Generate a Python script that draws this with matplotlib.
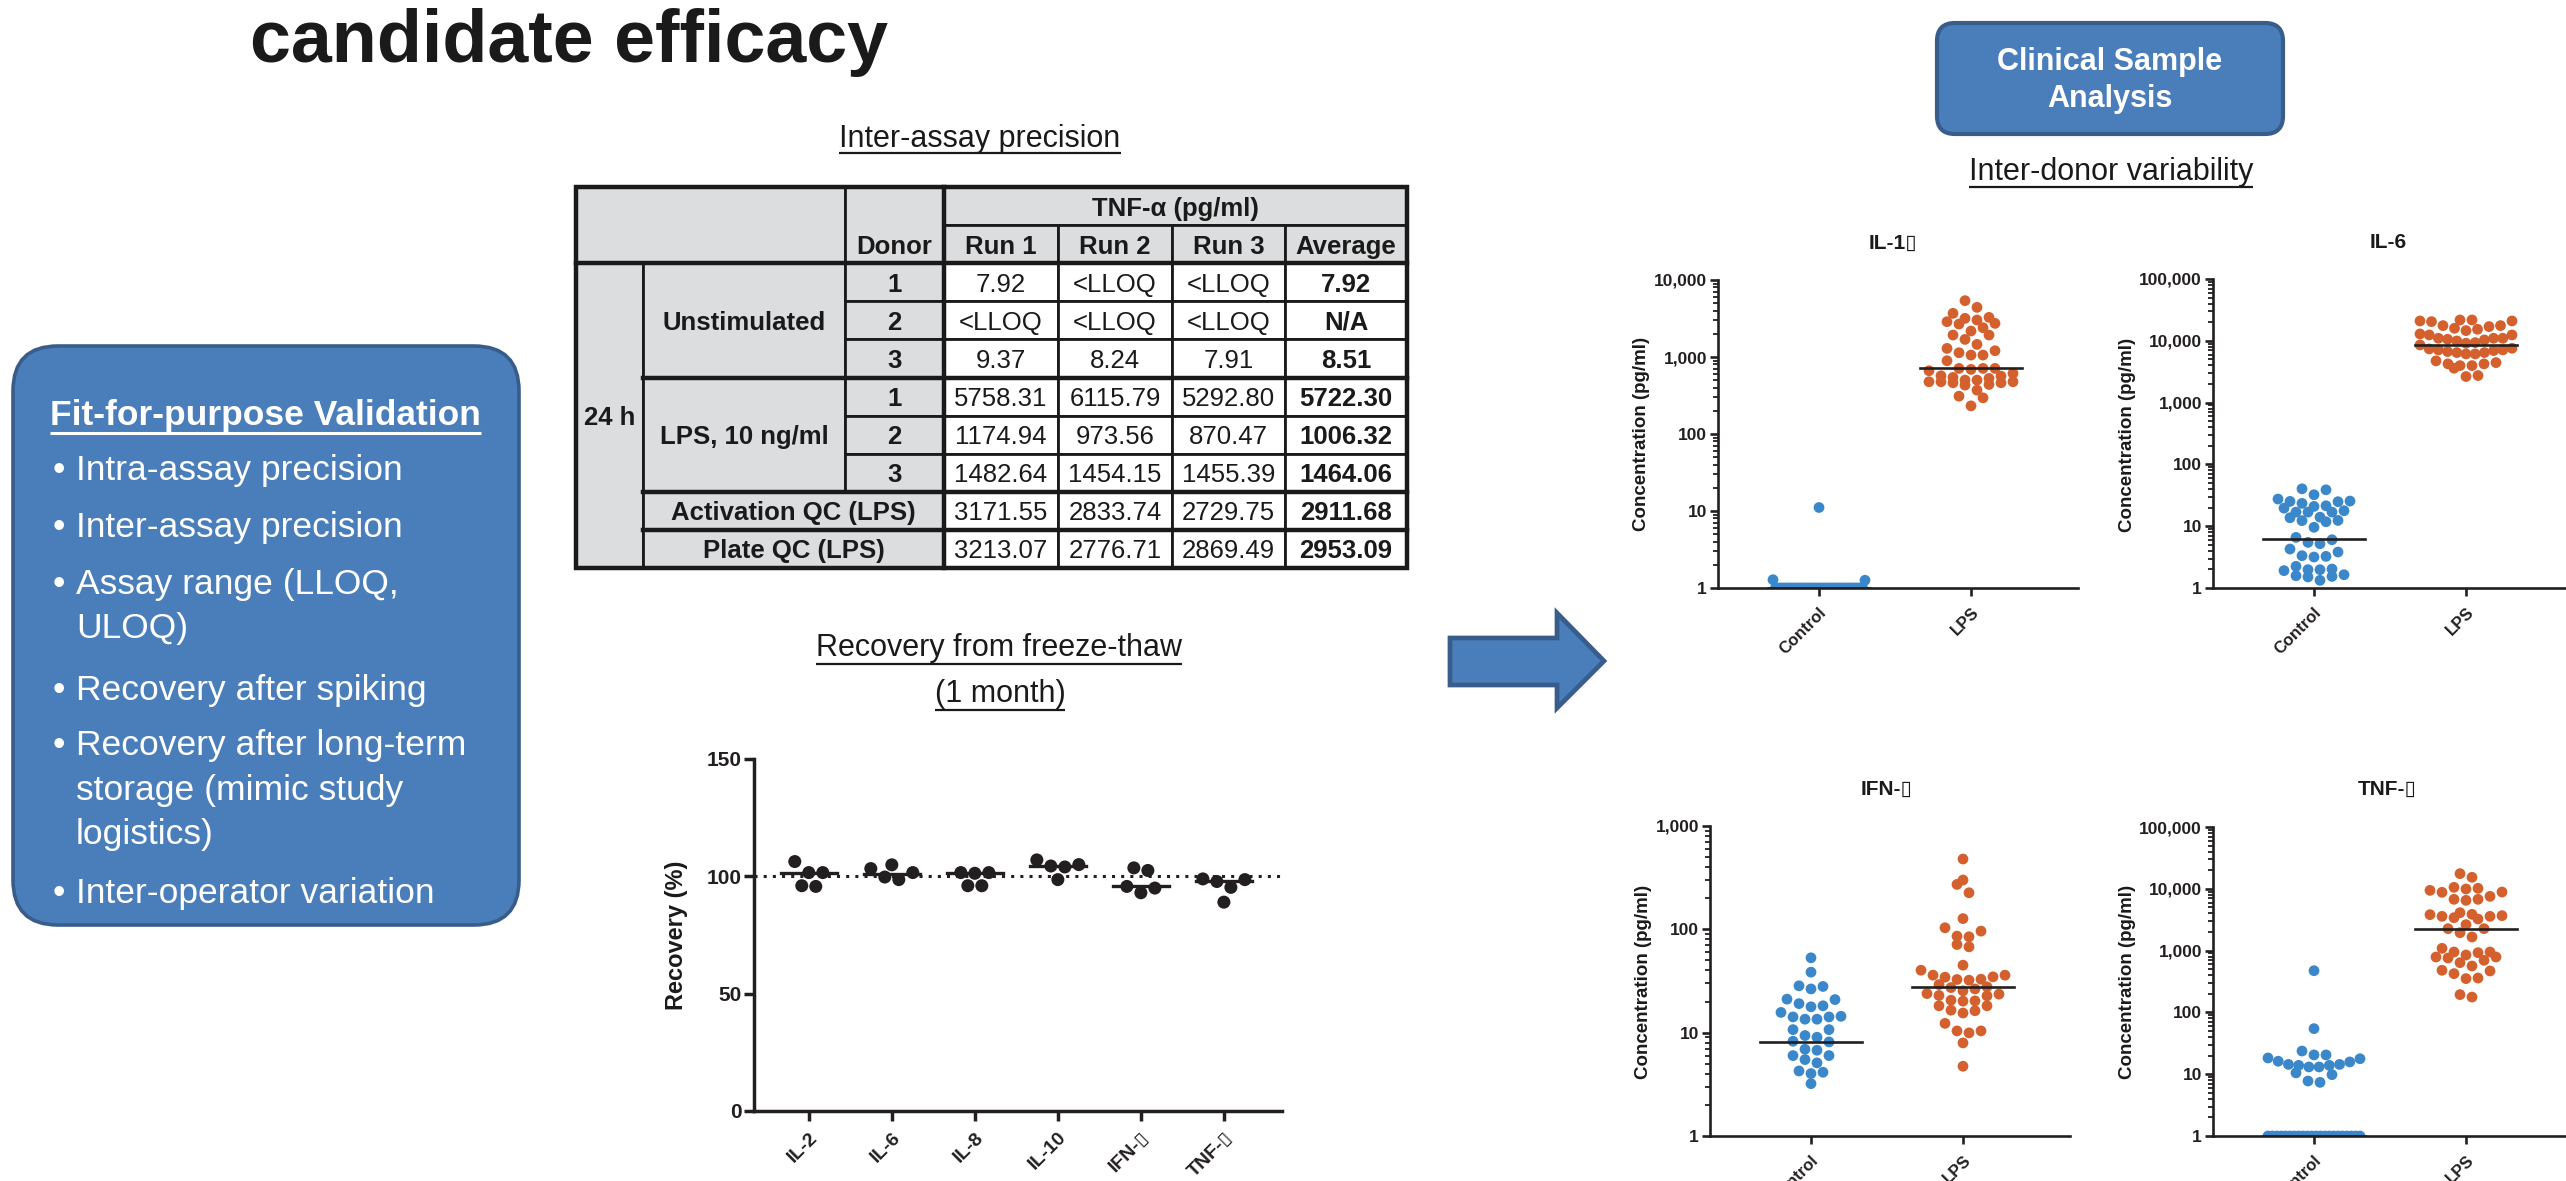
import matplotlib
matplotlib.use('Agg')
import matplotlib.pyplot as plt
import numpy as np
from matplotlib.patches import FancyBboxPatch, Rectangle, Polygon

plt.rcParams['font.family'] = ['Liberation Sans', 'DejaVu Sans']

W, H = 2566, 1181
DPI = 100

# ---------------- data ----------------
title_text = 'candidate efficacy'
validation_title = 'Fit-for-purpose Validation'
validation_items = [['Intra-assay precision'], ['Inter-assay precision'],
                    ['Assay range (LLOQ,', 'ULOQ)'], ['Recovery after spiking'],
                    ['Recovery after long-term', 'storage (mimic study', 'logistics)'],
                    ['Inter-operator variation']]

table_title = 'Inter-assay precision'
table_header = 'TNF-α (pg/ml)'
run_labels = ['Run 1', 'Run 2', 'Run 3', 'Average']
donor_ids = ['1', '2', '3']
group_labels = ['Unstimulated', 'LPS, 10 ng/ml']
qc_labels = ['Activation QC (LPS)', 'Plate QC (LPS)']
time_label = '24 h'
unstim_rows = [['7.92', '<LLOQ', '<LLOQ', '7.92'],
               ['<LLOQ', '<LLOQ', '<LLOQ', 'N/A'],
               ['9.37', '8.24', '7.91', '8.51']]
lps_rows = [['5758.31', '6115.79', '5292.80', '5722.30'],
            ['1174.94', '973.56', '870.47', '1006.32'],
            ['1482.64', '1454.15', '1455.39', '1464.06']]
qc_rows = [['3171.55', '2833.74', '2729.75', '2911.68'],
           ['3213.07', '2776.71', '2869.49', '2953.09']]

recovery_title = ['Recovery from freeze-thaw', '(1 month)']
recovery_categories = ['IL-2', 'IL-6', 'IL-8', 'IL-10', 'IFN-▯', 'TNF-▯']
recovery_il2 = [106.3, 101.6, 101.6, 95.7, 96.0]
recovery_il6 = [104.9, 101.6, 98.6, 99.7, 103.3]
recovery_il8 = [101.6, 101.3, 96.0, 96.0, 101.6]
recovery_il10 = [107.0, 104.4, 98.6, 104.0, 105.0]
recovery_ifng = [95.7, 103.6, 93.0, 102.5, 95.0]
recovery_tnfa = [97.8, 98.9, 89.0, 98.6, 95.3]
recovery_medians = [101.6, 101.0, 101.3, 104.4, 95.7, 97.8]

clinical_box = ['Clinical Sample', 'Analysis']
clinical_title = 'Inter-donor variability'
groups = ['Control', 'LPS']
panel_titles = ['IL-1▯', 'IL-6', 'IFN-▯', 'TNF-▯']

il1b_control = [11.1, 1.28, 1.26, 1.0, 1.0, 1.0, 1.0, 1.0, 1.0, 1.0, 1.0, 1.0, 1.0,
                1.0, 1.0, 1.0, 1.0, 1.0, 1.0, 1.0, 1.0, 1.0, 1.0, 1.0, 1.0, 1.0, 1.0,
                1.0, 1.0, 1.0, 1.0, 1.0, 1.0, 1.0, 1.0, 1.0, 1.0, 1.0, 1.0, 1.0]
il1b_lps = [5390, 4413, 3690, 3270, 3175, 3020, 2873, 2733, 2679, 2401, 2173, 1928,
            1928, 1693, 1458, 1293, 1206, 1136, 1059, 1059, 894, 711, 711, 711, 690,
            663, 612, 570, 565, 543, 527, 501, 501, 477, 477, 477, 463, 463, 440, 431,
            371, 310, 295, 232]
il1b_medians = [1.0, 711]

il6_control = [40.3, 38.8, 32.3, 27.5, 25.5, 25.2, 24.9, 23.4, 21.4, 20.9, 19.6, 17.8,
               16.9, 16.9, 16.9, 14.0, 13.7, 12.4, 12.3, 11.8, 9.6, 6.59, 6.04, 5.47,
               5.21, 4.27, 3.82, 3.33, 3.25, 3.17, 2.24, 2.03, 1.98, 1.98, 1.91, 1.64,
               1.58, 1.54, 1.51, 1.33]
il6_lps = [21740, 20950, 17620, 16980, 15360, 14620, 15950, 17620, 20420, 20950, 21740,
           12440, 10990, 10990, 10330, 9350, 8570, 9120, 9950, 10590, 10990, 12440,
           12910, 7390, 7120, 6950, 6450, 6140, 4730, 6140, 6450, 6690, 7120, 7570,
           4230, 3970, 3600, 2640, 2740, 3970, 4230, 4440]
il6_medians = [6.3, 8690]

ifng_control = [53.0, 38.5, 28.0, 28.4, 26.5, 21.1, 20.9, 19.1, 18.2, 17.8, 15.7, 14.2,
                13.5, 13.5, 14.2, 14.4, 10.7, 10.7, 9.03, 9.38, 8.14, 8.26, 6.91, 6.76,
                6.00, 6.00, 5.49, 5.10, 4.14, 4.02, 4.26, 3.21]
ifng_lps = [479, 300, 272, 226, 127, 103.5, 96.1, 84.7, 85.9, 71.3, 67.7, 45.0, 40.2,
            34.4, 36.0, 34.7, 36.0, 32.2, 32.9, 32.7, 29.2, 27.8, 27.3, 26.5, 25.4, 23.6,
            22.7, 22.9, 23.9, 20.3, 20.6, 20.2, 18.2, 18.2, 16.3, 16.5, 15.5, 12.3, 10.4,
            9.95, 10.4, 7.96, 4.73]
ifng_medians = [8.2, 27.8]

tnfa_control = [473, 54.6, 23.7, 20.5, 20.5, 17.8, 18.3, 15.8, 16.2, 14.4, 14.4, 13.9,
                13.9, 13.1, 13.1, 10.5, 9.83, 7.76, 7.38, 1.0, 1.0, 1.0, 1.0, 1.0, 1.0,
                1.0, 1.0, 1.0, 1.0, 1.0, 1.0, 1.0, 1.0, 1.0, 1.0, 1.0, 1.0, 1.0, 1.0,
                1.0, 1.0]
tnfa_lps = [17580, 15340, 9440, 8770, 10180, 10560, 9930, 8870, 6760, 6510, 6760, 7550,
            3675, 3245, 3583, 3862, 3412, 4110, 3583, 3815, 2264, 2264, 2630, 1950, 1660,
            1088, 949, 926, 788, 759, 638, 696, 788, 849, 949, 564, 468, 424, 480, 360,
            352, 177, 194]
tnfa_medians = [1.0, 2264]

# ---------------- styling ----------------
BLUE_FILL = '#4A7EBB'
BLUE_EDGE = '#385D8A'
TXT = '#1A1A1A'
AX = '#231F20'
C_CTRL = '#3A87C9'
C_LPS = '#D4602E'
GRAY = '#DCDDDE'

fig = plt.figure(figsize=(W / DPI, H / DPI), dpi=DPI)
ov = fig.add_axes([0, 0, 1, 1])
ov.set_xlim(0, W)
ov.set_ylim(H, 0)
ov.axis('off')
ov.set_autoscale_on(False)


def T(x, y, s, size, bold=False, color=TXT, ha='left', va='baseline', **kw):
    return ov.text(x, y, s, fontsize=size, fontweight='bold' if bold else 'normal',
                   color=color, ha=ha, va=va, **kw)


def underline(t, y, lw=1.6, color=TXT):
    r = fig.canvas.get_renderer()
    bb = t.get_window_extent(renderer=r)
    ov.plot([bb.x0, bb.x1], [y, y], color=color, lw=lw, solid_capstyle='butt')


def px_axes(left, top, right, bottom):
    return fig.add_axes([left / W, 1 - bottom / H, (right - left) / W, (bottom - top) / H])


def swarm_x(ax, center, values, row_px, step_px, half_px):
    vals = np.asarray(values, float)
    pts = ax.transData.transform(np.column_stack([np.full(len(vals), center), vals]))
    ypx = pts[:, 1]
    x0px = pts[0, 0]
    order = np.argsort(ypx, kind='stable')
    rows, cur, start = [], [order[0]], ypx[order[0]]
    for i in order[1:]:
        if ypx[i] - start < row_px:
            cur.append(i)
        else:
            rows.append(cur)
            cur, start = [i], ypx[i]
    rows.append(cur)
    off = np.zeros(len(vals))
    for row in rows:
        n = len(row)
        if n == 1:
            continue
        s = min(step_px, 2 * half_px / (n - 1))
        slots = []
        if n % 2:
            slots.append(0.0)
            k = 1
            while len(slots) < n:
                slots += [k * s, -k * s]
                k += 1
        else:
            k = 0.5
            while len(slots) < n:
                slots += [k * s, -k * s]
                k += 1
        for j, idx in enumerate(row):
            off[idx] = slots[j]
    inv = ax.transData.inverted()
    return inv.transform(np.column_stack([x0px + off, ypx]))[:, 0]


# ---------------- title ----------------
T(250, 62, title_text, 53, bold=True, color=TXT)

# ---------------- left validation box ----------------
ov.add_patch(FancyBboxPatch((13, 346), 506, 579, boxstyle='round,pad=0,rounding_size=45',
                            facecolor=BLUE_FILL, edgecolor=BLUE_EDGE, lw=2.6))
t = T(50, 425, validation_title, 25.5, bold=True, color='white')
underline(t, 433, lw=2.2, color='white')
baselines = [[480], [537], [594, 638], [700], [755, 800, 844], [903]]
for item, bls in zip(validation_items, baselines):
    T(53, bls[0], '•', 25.5, color='white')
    for line, bl in zip(item, bls):
        T(76, bl, line, 25.5, color='white')

# ---------------- table ----------------
t = T(980, 147, table_title, 22, ha='center')
underline(t, 153, lw=1.6)
cx = [576, 643, 845, 944, 1058, 1172, 1285, 1407]
top, bot = 187, 568
rh = (bot - top) / 10
ry = [top + rh * i for i in range(11)]
FS = 18.5


def cell(c0, c1, r0, r1, text, bold, fill, trow=None):
    x0, x1, y0, y1 = cx[c0], cx[c1 + 1], ry[r0], ry[r1 + 1]
    ov.add_patch(Rectangle((x0, y0), x1 - x0, y1 - y0, facecolor=fill, edgecolor=TXT, lw=2.0))
    if text:
        ty = (ry[trow] + ry[trow + 1]) / 2 if trow is not None else (y0 + y1) / 2
        T((x0 + x1) / 2, ty, text, FS, bold=bold, ha='center', va='center_baseline')


cell(0, 1, 0, 1, '', False, GRAY)
cell(2, 2, 0, 1, 'Donor', True, GRAY, trow=1)
cell(3, 6, 0, 0, table_header, True, GRAY)
for j, lab in enumerate(run_labels):
    cell(3 + j, 3 + j, 1, 1, lab, True, GRAY)
cell(0, 0, 2, 9, time_label, True, GRAY)
cell(1, 1, 2, 4, group_labels[0], True, GRAY)
cell(1, 1, 5, 7, group_labels[1], True, GRAY)
for g in range(2):
    for d, lab in enumerate(donor_ids):
        cell(2, 2, 2 + 3 * g + d, 2 + 3 * g + d, lab, True, GRAY)
for q, lab in enumerate(qc_labels):
    cell(1, 2, 8 + q, 8 + q, lab, True, GRAY)
for r, row in enumerate(unstim_rows + lps_rows + qc_rows):
    for j, v in enumerate(row):
        cell(3 + j, 3 + j, 2 + r, 2 + r, v, j == 3, 'white')
ov.plot([cx[0], cx[-1]], [ry[2], ry[2]], color=TXT, lw=3.2)
ov.plot([cx[3], cx[3]], [ry[0], ry[10]], color=TXT, lw=3.2)
for rr in (5, 8, 9):
    ov.plot([cx[1], cx[-1]], [ry[rr], ry[rr]], color=TXT, lw=3.2)
ov.add_patch(Rectangle((cx[0], ry[0]), cx[-1] - cx[0], ry[10] - ry[0], facecolor='none',
                       edgecolor=TXT, lw=3.2))

# ---------------- recovery chart ----------------
t = T(999, 656, recovery_title[0], 22, ha='center')
underline(t, 664, lw=1.6)
t = T(1000, 702, recovery_title[1], 22, ha='center')
underline(t, 710, lw=1.6)

ax_r = px_axes(754, 759, 1282, 1111)
ax_r.set_xlim(-0.66, 5.70)
ax_r.set_ylim(0, 150)
rec_sets = [recovery_il2, recovery_il6, recovery_il8, recovery_il10, recovery_ifng, recovery_tnfa]
ax_r.axhline(100, color=AX, lw=2.2, linestyle=(0, (1, 2)), zorder=1)
for i, vals in enumerate(rec_sets):
    xs = swarm_x(ax_r, i, vals, row_px=12, step_px=14, half_px=30)
    ax_r.scatter(xs, vals, s=88, c=AX, edgecolors='none', zorder=3, clip_on=False)
    ax_r.plot([i - 0.34, i + 0.34], [recovery_medians[i]] * 2, color=AX, lw=2.4, zorder=4)
for sp in ('top', 'right'):
    ax_r.spines[sp].set_visible(False)
for sp in ('left', 'bottom'):
    ax_r.spines[sp].set_linewidth(2.5)
    ax_r.spines[sp].set_color(AX)
ax_r.set_yticks([0, 50, 100, 150], labels=['0', '50', '100', '150'], fontsize=15,
               fontweight='bold', color=AX)
ax_r.set_xticks(range(len(recovery_categories)), labels=recovery_categories, rotation=45,
               ha='right', va='top', rotation_mode='anchor', fontsize=14, fontweight='bold',
               color=AX)
ax_r.tick_params(axis='both', direction='out', length=7, width=2.5, color=AX)
ax_r.tick_params(axis='y', pad=2)
ax_r.tick_params(axis='x', pad=6)
ax_r.set_facecolor('none')
T(676, 935, 'Recovery (%)', 17, bold=True, ha='center', va='center', rotation=90)

# ---------------- arrow ----------------
ov.add_patch(Polygon([(1450, 638), (1557, 638), (1557, 613), (1604, 661), (1557, 708),
                      (1557, 685), (1450, 685)], closed=True, facecolor=BLUE_FILL,
                     edgecolor=BLUE_EDGE, lw=3.4, joinstyle='miter'))

# ---------------- clinical sample box ----------------
ov.add_patch(FancyBboxPatch((1937, 23), 346, 111, boxstyle='round,pad=0,rounding_size=18',
                            facecolor=BLUE_FILL, edgecolor=BLUE_EDGE, lw=3.0))
T(2110, 70, clinical_box[0], 22, bold=True, color='white', ha='center')
T(2110, 107, clinical_box[1], 22, bold=True, color='white', ha='center')
t = T(2111, 180, clinical_title, 22, ha='center')
underline(t, 187, lw=1.6)

# ---------------- scatter panels ----------------
panels = [
    dict(left=1718, top=280, bottom=588, ymax=1e4, title=(1893, 243), ylab=(1642, 434),
         data=[il1b_control, il1b_lps], med=il1b_medians, name=panel_titles[0]),
    dict(left=2213, top=279, bottom=588, ymax=1e5, title=(2388, 243), ylab=(2127, 435),
         data=[il6_control, il6_lps], med=il6_medians, name=panel_titles[1]),
    dict(left=1710, top=826, bottom=1136, ymax=1e3, title=(1887, 789), ylab=(1643, 982),
         data=[ifng_control, ifng_lps], med=ifng_medians, name=panel_titles[2]),
    dict(left=2213, top=827, bottom=1136, ymax=1e5, title=(2387, 789), ylab=(2127, 982),
         data=[tnfa_control, tnfa_lps], med=tnfa_medians, name=panel_titles[3]),
]
PW = 360
for p in panels:
    ax = px_axes(p['left'], p['top'], p['left'] + PW, p['bottom'])
    ax.set_yscale('log')
    ax.set_ylim(1, p['ymax'])
    ax.set_xlim(-101 / 152, (PW - 101) / 152)
    for g, (vals, col) in enumerate(zip(p['data'], [C_CTRL, C_LPS])):
        xs = swarm_x(ax, g, vals, row_px=10, step_px=12, half_px=46)
        ax.scatter(xs, vals, s=60, c=col, edgecolors='none', zorder=2)
        ax.plot([g - 0.335, g + 0.335], [p['med'][g]] * 2, color=AX, lw=1.9, zorder=4)
    ndec = int(round(np.log10(p['ymax'])))
    majors = [10 ** k for k in range(ndec + 1)]
    minors = [m * 10 ** k for k in range(ndec) for m in range(2, 10)]
    ax.set_yticks(majors, labels=[f'{int(v):,}' for v in majors], fontsize=12.5,
                  fontweight='bold', color=AX)
    ax.set_yticks(minors, minor=True)
    ax.set_yticklabels([], minor=True)
    ax.set_xticks([0, 1], labels=groups, rotation=45, ha='right', va='top',
                  rotation_mode='anchor', fontsize=12, fontweight='bold', color=AX)
    ax.tick_params(axis='both', which='major', direction='out', length=6, width=1.9, color=AX)
    ax.tick_params(axis='y', which='minor', direction='out', length=3.5, width=1.3, color=AX)
    ax.tick_params(axis='y', which='major', pad=2)
    ax.tick_params(axis='x', pad=6)
    for sp in ('top', 'right'):
        ax.spines[sp].set_visible(False)
    for sp in ('left', 'bottom'):
        ax.spines[sp].set_linewidth(1.9)
        ax.spines[sp].set_color(AX)
    ax.set_facecolor('none')
    T(p['title'][0], p['title'][1], p['name'], 15, bold=True, ha='center', va='center')
    T(p['ylab'][0], p['ylab'][1], 'Concentration (pg/ml)', 13.5, bold=True, ha='center',
      va='center', rotation=90)

fig.savefig('out.png', dpi=DPI)
